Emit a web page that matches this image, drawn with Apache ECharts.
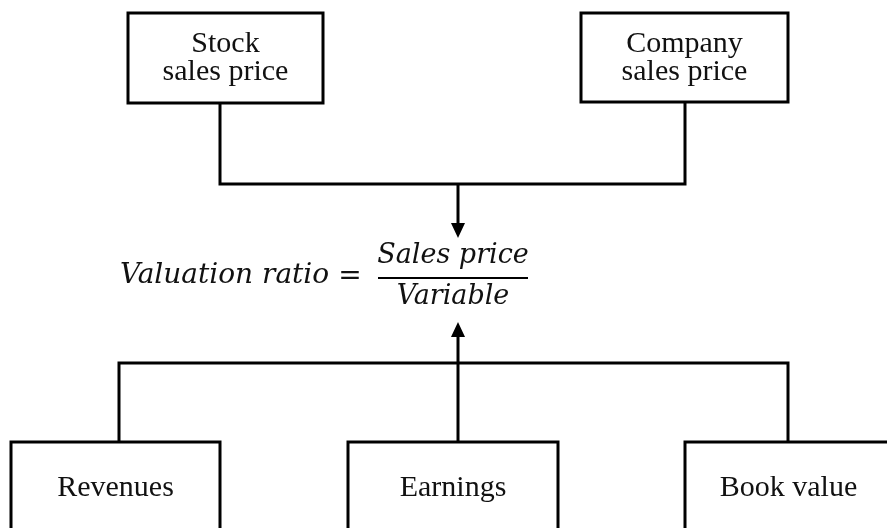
<!DOCTYPE html>
<html>
<head>
<meta charset="utf-8">
<script src="https://cdn.jsdelivr.net/npm/echarts@6/dist/echarts.min.js"></script>
<style>
html, body { margin: 0; padding: 0; background: #fff; }
</style>
</head>
<body>
<div id="main" style="width: 887px; height: 528px;"></div>
<script>
// boxes (page units, y grows downward)
var boxLabels = ['Stock\nsales price', 'Company\nsales price', 'Revenues', 'Earnings', 'Book value']
var boxX0 = [128, 581, 11, 348, 685]
var boxX1 = [323, 788, 220, 558, 892]
var boxY0 = [13, 13, 442, 442, 442]
var boxY1 = [103, 102, 540, 540, 540]
var labelY = [58, 58, 488, 488, 488]

// connector polylines
var topLink = [[220, 103], [220, 184], [685, 184], [685, 102]]
var topStem = [[458, 184], [458, 226]]
var bottomLink = [[119, 442], [119, 363], [788, 363], [788, 442]]
var bottomStem = [[458, 442], [458, 334]]
var fractionBar = [[378, 278], [528, 278]]

// arrow tips: x, y, direction (1 = down, -1 = up)
var arrowX = [458, 458]
var arrowY = [238, 322]
var arrowDir = [1, -1]

// formula text
var formulaText = ['Valuation ratio', '=', 'Sales price', 'Variable']
var formulaX = [120, 350, 453, 453]
var formulaY = [276, 277, 256, 297]
var formulaAlign = ['left', 'center', 'center', 'center']
var formulaSize = [28, 28, 27, 27]

var myChart = echarts.init(document.getElementById('main'))

myChart.setOption({
	backgroundColor: '#fff',
	animation: false,
	grid: { left: 0, right: 0, top: 0, bottom: 0 },
	xAxis: { type: 'value', min: 0, max: 887, show: false },
	yAxis: { type: 'value', min: 0, max: 528, inverse: true, show: false },
	series: [{
		type: 'lines',
		coordinateSystem: 'cartesian2d',
		polyline: true,
		silent: true,
		lineStyle: { color: '#000', width: 3, opacity: 1 },
		data: [topLink, topStem, bottomLink, bottomStem].map(function(c) { return { coords: c } })
	}, {
		type: 'lines',
		coordinateSystem: 'cartesian2d',
		polyline: true,
		silent: true,
		lineStyle: { color: '#000', width: 2, opacity: 1 },
		data: [{ coords: fractionBar }]
	}, {
		type: 'custom',
		coordinateSystem: 'cartesian2d',
		silent: true,
		clip: false,
		data: boxLabels.map(function(l, i) { return [boxX0[i], boxY0[i], boxX1[i], boxY1[i], labelY[i]] }),
		renderItem: function(params, api) {
			var p0 = api.coord([api.value(0), api.value(1)])
			var p1 = api.coord([api.value(2), api.value(3)])
			var ly = api.coord([0, api.value(4)])[1]
			return {
				type: 'group',
				children: [{
					type: 'rect',
					shape: { x: p0[0], y: p0[1], width: p1[0] - p0[0], height: p1[1] - p0[1] },
					style: { fill: '#fff', stroke: '#000', lineWidth: 3 }
				}, {
					type: 'text',
					style: {
						text: boxLabels[params.dataIndex],
						x: (p0[0] + p1[0]) / 2,
						y: ly,
						align: 'center',
						verticalAlign: 'middle',
						fontFamily: '"Liberation Serif", serif',
						fontSize: 30,
						lineHeight: 28,
						fill: '#111'
					}
				}]
			}
		}
	}, {
		type: 'custom',
		coordinateSystem: 'cartesian2d',
		silent: true,
		data: arrowX.map(function(x, i) { return [x, arrowY[i], arrowDir[i]] }),
		renderItem: function(params, api) {
			var tip = api.coord([api.value(0), api.value(1)])
			var d = api.value(2)
			var w = 14, h = 15
			return {
				type: 'polygon',
				shape: { points: [tip, [tip[0] - w / 2, tip[1] - d * h], [tip[0] + w / 2, tip[1] - d * h]] },
				style: { fill: '#000' }
			}
		}
	}, {
		type: 'custom',
		coordinateSystem: 'cartesian2d',
		silent: true,
		data: formulaText.map(function(t, i) { return [formulaX[i], formulaY[i]] }),
		renderItem: function(params, api) {
			var p = api.coord([api.value(0), api.value(1)])
			var i = params.dataIndex
			return {
				type: 'text',
				style: {
					text: formulaText[i],
					x: p[0],
					y: p[1],
					align: formulaAlign[i],
					verticalAlign: 'middle',
					fontFamily: '"DejaVu Serif", serif',
					fontStyle: i === 1 ? 'normal' : 'italic',
					fontSize: formulaSize[i],
					fill: '#111'
				}
			}
		}
	}]
})
</script>
</body>
</html>
